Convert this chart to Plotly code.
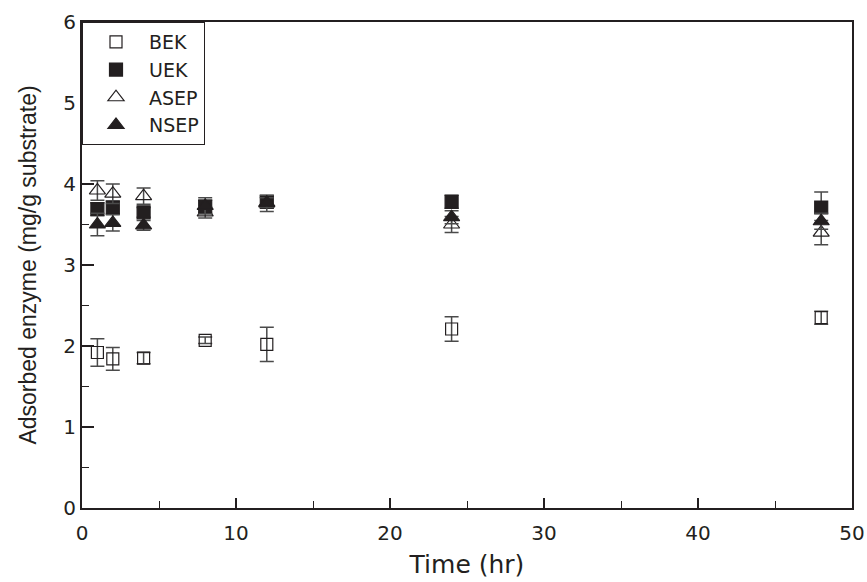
import plotly.graph_objects as go

time_hr = [1, 2, 4, 8, 12, 24, 48]

bek = [1.92, 1.84, 1.85, 2.07, 2.02, 2.21, 2.35]
bek_err = [0.17, 0.14, 0.07, 0.04, 0.21, 0.15, 0.08]

uek = [3.69, 3.71, 3.65, 3.72, 3.78, 3.78, 3.71]
uek_err = [0.08, 0.08, 0.06, 0.08, 0.06, 0.08, 0.19]

asep = [3.92, 3.88, 3.85, 3.65, 3.76, 3.50, 3.40]
asep_err = [0.12, 0.12, 0.10, 0.07, 0.10, 0.10, 0.15]

nsep = [3.50, 3.52, 3.49, 3.73, 3.77, 3.59, 3.54]
nsep_err = [0.14, 0.10, 0.06, 0.10, 0.06, 0.08, 0.10]

series = [
    ("BEK", bek, bek_err, "square-open", 12),
    ("UEK", uek, uek_err, "square", 13),
    ("ASEP", asep, asep_err, "triangle-up-open", 14),
    ("NSEP", nsep, nsep_err, "triangle-up", 14),
]

ink = "#231f20"
fig = go.Figure()
for name, vals, errs, sym, sz in series:
    fig.add_trace(go.Scatter(
        x=time_hr, y=vals, name=name, mode="markers",
        marker=dict(symbol=sym, size=sz, color=ink, line=dict(color=ink, width=1.2)),
        error_y=dict(type="data", array=errs, visible=True, color="#4a4a4a",
                     thickness=1.5, width=7),
    ))

wide_font = "DejaVu Sans, Verdana, sans-serif"
arial = "Liberation Sans, Arial, sans-serif"
fig.update_layout(
    width=867, height=582,
    margin=dict(l=82, r=15, t=22, b=74, autoexpand=False),
    plot_bgcolor="white", paper_bgcolor="white",
    font=dict(family=wide_font, color=ink, size=20),
    showlegend=True,
    legend=dict(x=0, y=1, xanchor="left", yanchor="top",
                bordercolor=ink, borderwidth=1, bgcolor="white",
                font=dict(size=19, family=wide_font, color=ink), tracegroupgap=0,
                itemwidth=56),
    xaxis=dict(
        range=[0, 50], tickvals=[0, 10, 20, 30, 40, 50],
        ticks="inside", ticklen=10, tickwidth=1.5, tickcolor=ink,
        minor=dict(dtick=5, ticks="inside", ticklen=7, tickwidth=1.2, tickcolor=ink),
        showline=True, linecolor=ink, linewidth=2, mirror=True,
        showgrid=False, zeroline=False, automargin=False,
        ticklabelstandoff=6,
        title=dict(text="Time (hr)", font=dict(size=25, family=wide_font), standoff=11),
        tickfont=dict(size=20, family=wide_font),
    ),
    yaxis=dict(
        range=[0, 6], tickvals=[0, 1, 2, 3, 4, 5, 6],
        ticks="inside", ticklen=12, tickwidth=1.5, tickcolor=ink,
        minor=dict(dtick=0.5, ticks="inside", ticklen=7, tickwidth=1.2, tickcolor=ink),
        showline=True, linecolor=ink, linewidth=2, mirror=True,
        showgrid=False, zeroline=False, automargin=False,
        title=dict(text="Adsorbed enzyme (mg/g substrate)", font=dict(size=23, family=arial), standoff=20),
        tickfont=dict(size=20, family=wide_font),
    ),
)

fig.write_html("out.html")
